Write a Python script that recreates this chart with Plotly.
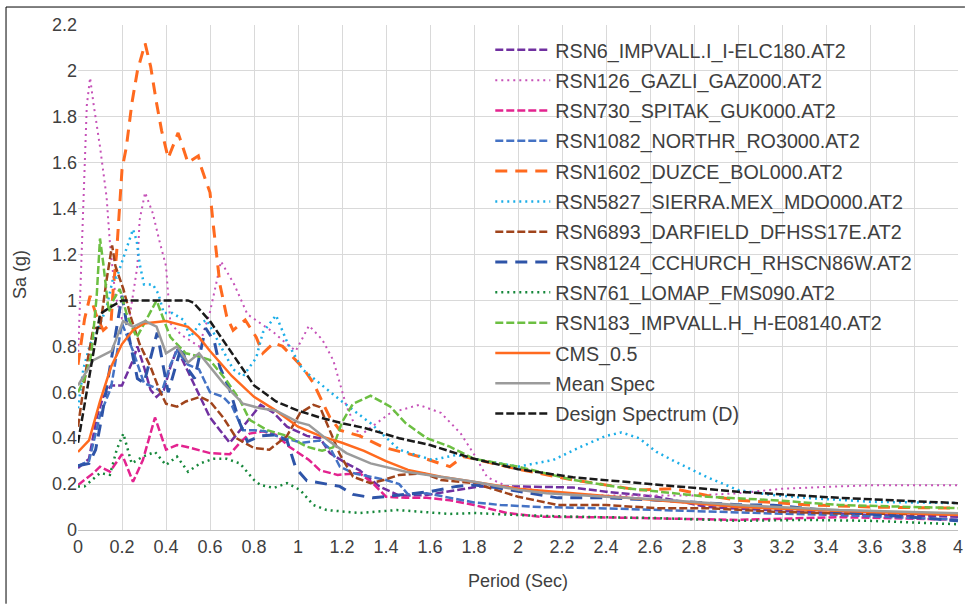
import plotly.graph_objects as go

# ---------------- data ----------------
T_RSN6 = [0, 0.05, 0.085, 0.115, 0.15, 0.2, 0.25, 0.27, 0.3, 0.33, 0.357, 0.39, 0.42, 0.45, 0.48, 0.525, 0.555, 0.6, 0.645, 0.69, 0.75, 0.83, 0.89, 0.95, 1.04, 1.1, 1.145, 1.22, 1.28, 1.37, 1.46, 1.585, 1.72, 1.83, 2.0, 2.25, 2.4, 2.63, 2.86, 3.31, 3.6, 4.0]
SA_RSN6 = [0.27, 0.31, 0.49, 0.58, 0.63, 0.63, 0.74, 0.80, 0.71, 0.61, 0.58, 0.61, 0.71, 0.79, 0.73, 0.64, 0.58, 0.49, 0.435, 0.38, 0.45, 0.545, 0.51, 0.45, 0.41, 0.40, 0.335, 0.29, 0.26, 0.19, 0.15, 0.152, 0.174, 0.19, 0.19, 0.185, 0.167, 0.145, 0.10, 0.08, 0.065, 0.058]

T_RSN126 = [0, 0.02, 0.04, 0.055, 0.07, 0.1, 0.13, 0.145, 0.17, 0.2, 0.23, 0.27, 0.28, 0.305, 0.34, 0.37, 0.4, 0.42, 0.47, 0.55, 0.6, 0.65, 0.71, 0.77, 0.83, 0.89, 0.95, 0.99, 1.05, 1.11, 1.16, 1.19, 1.22, 1.28, 1.42, 1.55, 1.65, 1.74, 1.8, 1.86, 1.95, 2.2, 2.4, 2.8, 3.0, 3.2, 3.6, 4.0]
SA_RSN126 = [0.75, 1.3, 1.85, 1.97, 1.86, 1.67, 1.45, 1.25, 1.02, 0.92, 0.9, 1.15, 1.35, 1.47, 1.38, 1.26, 1.15, 0.9, 0.85, 0.80, 0.95, 1.17, 1.07, 0.94, 0.90, 0.86, 0.81, 0.78, 0.89, 0.83, 0.74, 0.64, 0.54, 0.41, 0.51, 0.545, 0.51, 0.42, 0.33, 0.23, 0.19, 0.16, 0.15, 0.15, 0.16, 0.18, 0.195, 0.195]

T_RSN730 = [0, 0.07, 0.1, 0.145, 0.2, 0.25, 0.295, 0.35, 0.4, 0.45, 0.49, 0.6, 0.69, 0.736, 0.78, 0.84, 0.9, 0.96, 1.05, 1.1, 1.18, 1.28, 1.34, 1.4, 1.49, 1.585, 1.69, 1.8, 1.95, 2.1, 2.4, 2.63, 3.0, 3.46, 4.0]
SA_RSN730 = [0.196, 0.248, 0.276, 0.254, 0.33, 0.21, 0.305, 0.49, 0.35, 0.37, 0.363, 0.335, 0.33, 0.38, 0.42, 0.43, 0.414, 0.363, 0.305, 0.26, 0.24, 0.248, 0.204, 0.145, 0.14, 0.14, 0.13, 0.109, 0.074, 0.058, 0.055, 0.05, 0.044, 0.056, 0.045]

T_RSN1082 = [0, 0.05, 0.1, 0.15, 0.2, 0.25, 0.3, 0.35, 0.38, 0.42, 0.45, 0.5, 0.55, 0.6, 0.66, 0.7, 0.75, 0.8, 0.85, 0.9, 1.02, 1.1, 1.15, 1.19, 1.25, 1.33, 1.4, 1.46, 1.5, 1.585, 1.69, 1.8, 1.92, 2.1, 2.4, 2.63, 2.86, 3.16, 3.46, 4.0]
SA_RSN1082 = [0.28, 0.30, 0.50, 0.62, 0.90, 0.78, 0.64, 0.62, 0.60, 0.72, 0.78, 0.72, 0.70, 0.60, 0.58, 0.54, 0.435, 0.435, 0.43, 0.41, 0.38, 0.39, 0.35, 0.276, 0.248, 0.232, 0.218, 0.2, 0.155, 0.16, 0.14, 0.12, 0.109, 0.10, 0.094, 0.087, 0.08, 0.072, 0.065, 0.045]

T_RSN1602 = [0, 0.03, 0.055, 0.085, 0.115, 0.15, 0.16, 0.175, 0.2, 0.22, 0.245, 0.27, 0.305, 0.33, 0.357, 0.38, 0.41, 0.455, 0.5, 0.547, 0.56, 0.6, 0.616, 0.645, 0.676, 0.705, 0.76, 0.81, 0.84, 0.89, 0.93, 1.02, 1.07, 1.1, 1.145, 1.19, 1.28, 1.39, 1.55, 1.69, 1.75, 1.8, 2.0, 2.25, 2.55, 2.71, 2.86, 3.0, 3.31, 3.6, 4.0]
SA_RSN1602 = [0.72, 0.92, 1.02, 0.93, 0.87, 0.90, 1.05, 1.2, 1.57, 1.67, 1.86, 2.0, 2.12, 2.02, 1.86, 1.74, 1.62, 1.73, 1.6, 1.63, 1.58, 1.47, 1.32, 1.07, 0.93, 0.87, 0.915, 0.84, 0.77, 0.815, 0.80, 0.71, 0.64, 0.58, 0.49, 0.435, 0.41, 0.36, 0.32, 0.276, 0.32, 0.31, 0.265, 0.218, 0.174, 0.18, 0.15, 0.13, 0.11, 0.10, 0.095]

T_RSN5827 = [0, 0.024, 0.055, 0.085, 0.13, 0.16, 0.176, 0.22, 0.25, 0.267, 0.28, 0.3, 0.34, 0.365, 0.39, 0.43, 0.48, 0.51, 0.555, 0.585, 0.615, 0.66, 0.705, 0.75, 0.81, 0.84, 0.9, 0.95, 1.02, 1.11, 1.2, 1.33, 1.46, 1.61, 1.72, 1.83, 2.0, 2.16, 2.28, 2.4, 2.47, 2.55, 2.63, 2.71, 2.86, 3.0, 3.16, 3.31, 3.6, 4.0]
SA_RSN5827 = [0.53, 0.70, 0.81, 0.86, 0.97, 1.10, 1.10, 1.22, 1.31, 1.26, 1.16, 1.07, 1.07, 1.03, 0.945, 0.945, 0.915, 0.84, 0.90, 0.915, 0.86, 0.78, 0.70, 0.67, 0.75, 0.86, 0.935, 0.82, 0.70, 0.63, 0.56, 0.465, 0.35, 0.305, 0.327, 0.305, 0.276, 0.305, 0.36, 0.41, 0.425, 0.40, 0.34, 0.30, 0.23, 0.174, 0.152, 0.14, 0.123, 0.117]

T_RSN6893 = [0, 0.04, 0.07, 0.1, 0.13, 0.155, 0.17, 0.206, 0.244, 0.28, 0.33, 0.37, 0.4, 0.45, 0.49, 0.555, 0.6, 0.66, 0.72, 0.8, 0.87, 0.95, 1.01, 1.07, 1.1, 1.145, 1.19, 1.25, 1.33, 1.39, 1.46, 1.57, 1.65, 1.8, 2.0, 2.18, 2.4, 2.63, 2.86, 3.16, 3.46, 4.0]
SA_RSN6893 = [0.45, 0.72, 0.88, 0.88, 1.09, 1.24, 1.15, 1.05, 0.915, 0.81, 0.71, 0.61, 0.55, 0.537, 0.56, 0.58, 0.56, 0.49, 0.40, 0.357, 0.35, 0.41, 0.51, 0.545, 0.535, 0.435, 0.33, 0.232, 0.204, 0.218, 0.24, 0.247, 0.218, 0.204, 0.145, 0.109, 0.109, 0.095, 0.095, 0.08, 0.072, 0.068]

T_RSN8124 = [0, 0.05, 0.08, 0.1, 0.13, 0.16, 0.2, 0.23, 0.27, 0.3, 0.33, 0.36, 0.39, 0.41, 0.44, 0.47, 0.5, 0.53, 0.58, 0.62, 0.645, 0.69, 0.736, 0.77, 0.83, 0.89, 0.95, 0.99, 1.04, 1.13, 1.19, 1.25, 1.34, 1.42, 1.6, 1.72, 1.8, 1.9, 2.0, 2.18, 2.4, 2.63, 3.0, 3.16, 3.46, 4.0]
SA_RSN8124 = [0.28, 0.29, 0.35, 0.45, 0.62, 0.80, 1.02, 0.85, 0.66, 0.64, 0.75, 0.86, 0.70, 0.60, 0.70, 0.80, 0.70, 0.66, 0.88, 0.82, 0.71, 0.61, 0.465, 0.385, 0.41, 0.414, 0.39, 0.27, 0.215, 0.20, 0.19, 0.155, 0.14, 0.148, 0.167, 0.19, 0.196, 0.185, 0.17, 0.14, 0.14, 0.13, 0.11, 0.108, 0.08, 0.04]

T_RSN761 = [0, 0.03, 0.1, 0.145, 0.176, 0.206, 0.244, 0.295, 0.35, 0.4, 0.45, 0.5, 0.555, 0.615, 0.676, 0.736, 0.8, 0.83, 0.89, 0.95, 1.01, 1.07, 1.13, 1.28, 1.45, 1.57, 1.69, 1.8, 2.0, 2.25, 2.63, 3.0, 3.31, 3.6, 4.0]
SA_RSN761 = [0.189, 0.19, 0.248, 0.24, 0.35, 0.42, 0.29, 0.32, 0.34, 0.283, 0.32, 0.254, 0.29, 0.31, 0.31, 0.29, 0.218, 0.196, 0.183, 0.204, 0.174, 0.109, 0.087, 0.074, 0.087, 0.08, 0.07, 0.074, 0.065, 0.058, 0.052, 0.04, 0.044, 0.04, 0.025]

T_RSN183 = [0, 0.03, 0.06, 0.085, 0.1, 0.115, 0.14, 0.16, 0.19, 0.22, 0.244, 0.267, 0.31, 0.357, 0.39, 0.42, 0.49, 0.555, 0.6, 0.676, 0.736, 0.78, 0.86, 0.95, 1.04, 1.11, 1.16, 1.2, 1.25, 1.33, 1.42, 1.49, 1.585, 1.69, 1.8, 2.0, 2.25, 2.48, 2.86, 3.16, 3.46, 4.0]
SA_RSN183 = [0.6, 0.66, 0.76, 1.02, 1.27, 1.16, 0.95, 1.0, 1.05, 0.945, 0.886, 0.84, 0.915, 1.0, 0.915, 0.84, 0.77, 0.755, 0.74, 0.65, 0.566, 0.48, 0.435, 0.41, 0.363, 0.345, 0.36, 0.47, 0.55, 0.585, 0.537, 0.465, 0.40, 0.363, 0.31, 0.276, 0.218, 0.183, 0.145, 0.13, 0.109, 0.095]

T_CMS = [0, 0.05, 0.1, 0.15, 0.2, 0.25, 0.3, 0.4, 0.5, 0.55, 0.6, 0.7, 0.8, 0.9, 1.0, 1.1, 1.2, 1.3, 1.4, 1.5, 1.65, 1.8, 2.0, 2.25, 2.63, 3.0, 3.5, 4.0]
SA_CMS = [0.34, 0.39, 0.56, 0.71, 0.81, 0.87, 0.90, 0.91, 0.885, 0.84, 0.78, 0.67, 0.58, 0.52, 0.45, 0.41, 0.38, 0.345, 0.30, 0.262, 0.232, 0.21, 0.18, 0.16, 0.13, 0.10, 0.082, 0.065]

T_MEAN = [0, 0.07, 0.153, 0.205, 0.25, 0.305, 0.357, 0.4, 0.45, 0.5, 0.55, 0.6, 0.66, 0.75, 0.83, 0.9, 1.0, 1.05, 1.145, 1.22, 1.33, 1.49, 1.65, 1.8, 2.0, 2.13, 2.4, 2.6, 3.0, 3.46, 4.0]
SA_MEAN = [0.63, 0.74, 0.78, 0.91, 0.885, 0.91, 0.886, 0.77, 0.80, 0.73, 0.77, 0.71, 0.64, 0.55, 0.53, 0.52, 0.47, 0.457, 0.385, 0.335, 0.29, 0.254, 0.232, 0.21, 0.175, 0.16, 0.145, 0.135, 0.109, 0.087, 0.073]

T_DESIGN = [0, 0.1, 0.145, 0.2, 0.5, 0.525, 0.6, 0.68, 0.8, 0.9, 1.0, 1.1, 1.2, 1.3, 1.46, 1.6, 1.8, 2.0, 2.25, 2.6, 3.0, 3.46, 4.0]
SA_DESIGN = [0.38, 0.94, 0.97, 1.0, 1.0, 0.99, 0.91, 0.80, 0.63, 0.56, 0.52, 0.49, 0.465, 0.445, 0.40, 0.37, 0.31, 0.265, 0.23, 0.20, 0.167, 0.14, 0.117]

NAMES = ["RSN6_IMPVALL.I_I-ELC180.AT2", "RSN126_GAZLI_GAZ000.AT2", "RSN730_SPITAK_GUK000.AT2",
         "RSN1082_NORTHR_RO3000.AT2", "RSN1602_DUZCE_BOL000.AT2", "RSN5827_SIERRA.MEX_MDO000.AT2",
         "RSN6893_DARFIELD_DFHSS17E.AT2", "RSN8124_CCHURCH_RHSCN86W.AT2", "RSN761_LOMAP_FMS090.AT2",
         "RSN183_IMPVALL.H_H-E08140.AT2", "CMS_0.5", "Mean Spec", "Design Spectrum (D)"]

X_TICKS = [0, 0.2, 0.4, 0.6, 0.8, 1, 1.2, 1.4, 1.6, 1.8, 2, 2.2, 2.4, 2.6, 2.8, 3, 3.2, 3.4, 3.6, 3.8, 4]
Y_TICKS = [0, 0.2, 0.4, 0.6, 0.8, 1, 1.2, 1.4, 1.6, 1.8, 2, 2.2]

# ---------------- styles ----------------
SHORT = "8px,3px"
LONG = "12px,8px"
DOT = "2px,4px"
series = [
    (T_RSN6, SA_RSN6, "#7030A0", SHORT, 2.5),
    (T_RSN126, SA_RSN126, "#C652B8", DOT, 2.0),
    (T_RSN730, SA_RSN730, "#E3238F", SHORT, 2.5),
    (T_RSN1082, SA_RSN1082, "#4472C4", SHORT, 2.5),
    (T_RSN1602, SA_RSN1602, "#FF6A1F", LONG, 3.0),
    (T_RSN5827, SA_RSN5827, "#1CAEE8", DOT, 2.5),
    (T_RSN6893, SA_RSN6893, "#A0441C", SHORT, 2.5),
    (T_RSN8124, SA_RSN8124, "#2E54A8", LONG, 3.0),
    (T_RSN761, SA_RSN761, "#15873A", DOT, 2.5),
    (T_RSN183, SA_RSN183, "#6CBF42", SHORT, 2.5),
    (T_CMS, SA_CMS, "#FF6A1F", "solid", 2.5),
    (T_MEAN, SA_MEAN, "#9B9B9B", "solid", 2.5),
    (T_DESIGN, SA_DESIGN, "#1A1A1A", SHORT, 2.5),
]

fig = go.Figure()
for i, (t, sa, col, dash, w) in enumerate(series):
    fig.add_trace(go.Scatter(x=t, y=sa, mode="lines", name=NAMES[i], legendgroup=f"g{i}",
                             line=dict(color=col, dash=dash, width=w)))

FONT = "Liberation Sans, Arial, sans-serif"
TXT = "#404040"
fig.update_layout(
    width=965, height=604,
    margin=dict(l=78, r=7, t=25, b=74),
    paper_bgcolor="white", plot_bgcolor="white",
    font=dict(family=FONT, size=18, color=TXT),
    showlegend=True,
    legend=dict(x=0.4685, y=0.989, xanchor="left", yanchor="top", bgcolor="rgba(0,0,0,0)",
                font=dict(size=19.7, color=TXT), tracegroupgap=1.7, itemwidth=55),
    xaxis=dict(range=[0, 4], tickvals=X_TICKS, showgrid=True, gridcolor="#D9D9D9", gridwidth=1,
               zeroline=False, showline=True, linecolor="#BFBFBF", linewidth=1, automargin=False,
               ticks="", tickfont=dict(size=18, color=TXT)),
    yaxis=dict(range=[0, 2.2], tickvals=Y_TICKS, showgrid=True, gridcolor="#D9D9D9", gridwidth=1,
               zeroline=False, showline=False, ticks="", automargin=False,
               tickfont=dict(size=18, color=TXT)),
    annotations=[
        dict(text="Sa (g)", xref="paper", yref="paper", x=-0.0659, y=0.505, textangle=-90,
             xanchor="center", yanchor="middle", showarrow=False, font=dict(size=18, color=TXT)),
        dict(text="Period (Sec)", xref="paper", yref="paper", x=0.5, y=-0.101,
             xanchor="center", yanchor="middle", showarrow=False, font=dict(size=18, color=TXT)),
    ],
    shapes=[
        dict(type="line", xref="paper", yref="paper", x0=-0.0818, x1=-0.0818, y0=-0.146, y1=1.0356,
             line=dict(color="black", width=1), layer="above"),
        dict(type="line", xref="paper", yref="paper", x0=-0.0818, x1=1.0079, y0=1.0356, y1=1.0356,
             line=dict(color="black", width=1), layer="above"),
    ],
)
fig.write_html("out.html")
